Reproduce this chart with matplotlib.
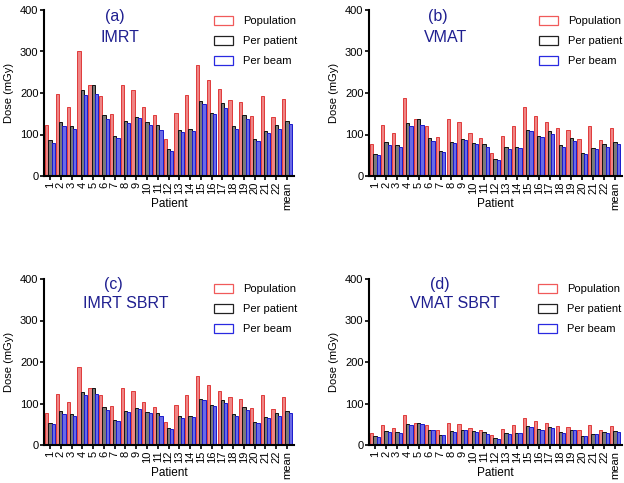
import numpy as np
import matplotlib.pyplot as plt
from matplotlib.patches import Patch

plt.rcParams['font.family'] = ['Liberation Sans', 'DejaVu Sans']

# Data (mGy)
patients = [str(i) for i in range(1, 23)] + ['mean']

imrt_pop = [124, 198, 166, 300, 219, 193, 149, 219, 207, 166, 147, 89, 153, 195,
            267, 231, 209, 183, 178, 144, 193, 141, 186]
imrt_pp = [87, 131, 121, 207, 219, 148, 96, 132, 142, 130, 123, 65, 112, 114,
           181, 153, 176, 120, 147, 89, 108, 124, 133]
imrt_pb = [80, 120, 114, 196, 198, 137, 92, 127, 139, 123, 111, 61, 105, 109,
           173, 149, 165, 113, 137, 84, 104, 113, 125]

vmat_pop = [77, 124, 104, 187, 137, 121, 94, 137, 129, 104, 92, 55, 96, 121,
            166, 145, 129, 115, 111, 89, 120, 87, 116]
vmat_pp = [54, 81, 75, 128, 137, 92, 60, 83, 89, 80, 76, 40, 70, 71,
           112, 96, 109, 75, 92, 55, 67, 77, 82]
vmat_pb = [50, 75, 71, 121, 123, 85, 57, 80, 87, 77, 69, 39, 65, 68,
           108, 93, 102, 71, 84, 52, 65, 71, 78]

imrt_sbrt_pop = [78, 124, 104, 187, 137, 121, 93, 137, 129, 104, 92, 55, 96, 121,
                 167, 145, 130, 115, 111, 89, 120, 87, 116]
imrt_sbrt_pp = [54, 82, 75, 128, 137, 92, 60, 83, 89, 80, 76, 40, 70, 71,
                112, 96, 109, 75, 92, 55, 67, 77, 82]
imrt_sbrt_pb = [50, 75, 71, 121, 123, 85, 57, 80, 87, 77, 69, 39, 65, 68,
                108, 93, 102, 71, 84, 52, 65, 71, 78]

vmat_sbrt_pop = [30, 49, 40, 73, 54, 47, 37, 53, 51, 40, 36, 23, 38, 48,
                 65, 57, 52, 45, 44, 35, 47, 35, 45]
vmat_sbrt_pp = [21, 33, 31, 51, 54, 37, 24, 33, 35, 33, 31, 16, 28, 28,
                45, 38, 43, 31, 36, 21, 27, 31, 33]
vmat_sbrt_pb = [20, 31, 28, 47, 50, 35, 23, 31, 35, 31, 27, 15, 26, 28,
                43, 36, 40, 29, 35, 21, 26, 28, 31]

series_names = ['Population', 'Per patient', 'Per beam']
face_cols = ['#ef8585', '#7a7a7a', '#6a6ae6']
edge_cols = ['#e03a3a', '#111111', '#1a1acc']
legend_edges = ['#f05a5a', '#222222', '#2a2ae0']
title_col = '#1f1f90'

fig = plt.figure(figsize=(6.24, 4.83), dpi=100)
W, H = 624, 483


def fp(px, py):
    return (px / W, 1 - py / H)


def panel(rect_px, data, tag, name, tag_xy, name_xy, leg_xy):
    x0, y0, x1, y1 = rect_px
    ax = fig.add_axes([x0 / W, 1 - y1 / H, (x1 - x0) / W, (y1 - y0) / H])
    x = np.arange(len(patients))
    w = 0.3
    for k, vals in enumerate(data):
        ax.bar(x + (k - 1) * w, vals, width=w, color=face_cols[k],
               edgecolor=edge_cols[k], linewidth=0.7)
    ax.set_xlim(-0.56, 22.65)
    ax.set_ylim(0, 400)
    ax.set_yticks([0, 100, 200, 300, 400])
    ax.set_xticks(x)
    ax.set_xticklabels(patients, rotation=90, fontsize=8)
    ax.tick_params(axis='y', labelsize=8, length=3, width=1.2, pad=1)
    ax.tick_params(axis='x', length=3, width=1.2, pad=1)
    for s in ['top', 'right']:
        ax.spines[s].set_visible(False)
    for s in ['left', 'bottom']:
        ax.spines[s].set_linewidth(1.5)
    ax.set_ylabel('Dose (mGy)', fontsize=8, labelpad=4)
    ax.set_xlabel('Patient', fontsize=8.5)
    ax.xaxis.set_label_coords(0.5, -28 / (y1 - y0))
    ax.xaxis.label.set_va('center')
    # panel titles
    ax.text(*fp(*tag_xy), tag, transform=fig.transFigure,
            ha='center', va='center', fontsize=11.5, color=title_col)
    ax.text(*fp(*name_xy), name, transform=fig.transFigure,
            ha='center', va='center', fontsize=11.5, color=title_col)
    handles = [Patch(facecolor='white', edgecolor=legend_edges[k], linewidth=0.9)
               for k in range(3)]
    ax.legend(handles, series_names, loc='upper left',
              bbox_to_anchor=fp(*leg_xy), bbox_transform=fig.transFigure,
              frameon=False, fontsize=8, handlelength=1.75, handleheight=0.8,
              labelspacing=0.9, handletextpad=0.9, borderpad=0, borderaxespad=0)
    return ax


panel((44, 10, 294, 176), [imrt_pop, imrt_pp, imrt_pb], '(a)', 'IMRT',
      (115, 17), (120, 37), (214, 16))
panel((369, 10, 622, 176), [vmat_pop, vmat_pp, vmat_pb], '(b)', 'VMAT',
      (438, 17), (446, 37), (539, 16))
panel((44, 279, 294, 445), [imrt_sbrt_pop, imrt_sbrt_pp, imrt_sbrt_pb], '(c)', 'IMRT SBRT',
      (113, 284), (126, 304), (214, 284))
panel((369, 279, 622, 445), [vmat_sbrt_pop, vmat_sbrt_pp, vmat_sbrt_pb], '(d)', 'VMAT SBRT',
      (440, 284), (455, 304), (538, 284))

fig.savefig('out.png', dpi=100)
